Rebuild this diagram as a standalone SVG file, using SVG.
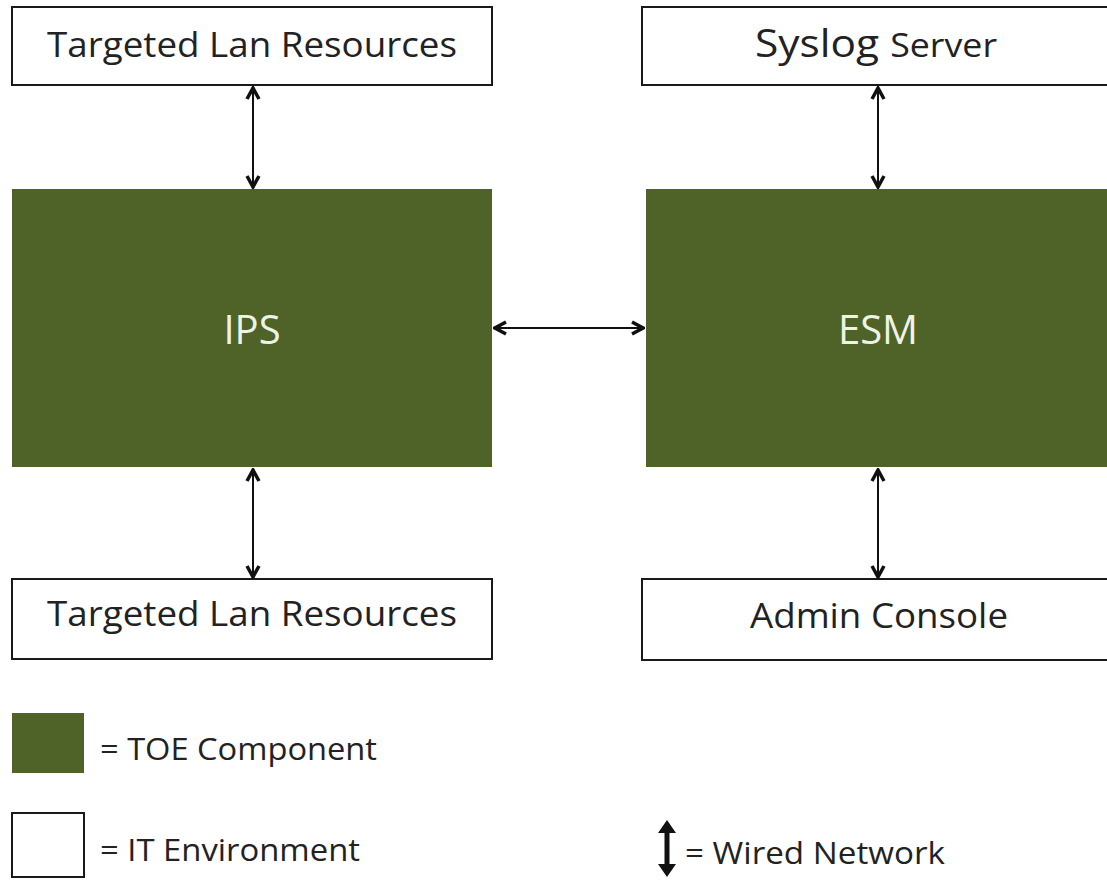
<svg xmlns="http://www.w3.org/2000/svg" width="1107" height="881" viewBox="0 0 1107 881">
<style>
.env{fill:#ffffff;stroke:#1a1a1a;stroke-width:2}
.toe{fill:#4f6228}
.t{font-family:"Open Sans","Liberation Sans",sans-serif;fill:#222222}
.tw{font-family:"Open Sans","Liberation Sans",sans-serif;fill:#eef3e6;font-size:40px;text-anchor:middle}
.c{stroke:#111111;stroke-width:2;fill:none;marker-start:url(#ah);marker-end:url(#ah)}
</style>
<defs>
<marker id="ah" viewBox="0 0 16 16" refX="14" refY="8" markerWidth="16" markerHeight="16" markerUnits="userSpaceOnUse" orient="auto-start-reverse">
<path d="M3,2 L14,8 L3,14" fill="none" stroke="#111111" stroke-width="3.5" stroke-linejoin="miter"/>
</marker>
</defs>
<rect width="1107" height="881" fill="#ffffff"/>
<g id="tlr-top">
<rect class="env" x="12" y="7" width="480" height="78"/>
<text class="t" x="252" y="57" font-size="34" text-anchor="middle" textLength="410" lengthAdjust="spacingAndGlyphs">Targeted Lan Resources</text>
</g>
<g id="syslog">
<rect class="env" x="642" y="7" width="470" height="78"/>
<text class="t" x="755" y="57" font-size="38" textLength="242" lengthAdjust="spacingAndGlyphs">Syslog <tspan font-size="32">Server</tspan></text>
</g>
<g id="ips">
<rect class="toe" x="12" y="189" width="480" height="278"/>
<text class="tw" x="252" y="344">IPS</text>
</g>
<g id="esm">
<rect class="toe" x="646" y="189" width="465" height="278"/>
<text class="tw" x="878" y="344">ESM</text>
</g>
<g id="tlr-bottom">
<rect class="env" x="12" y="579" width="480" height="80"/>
<text class="t" x="252" y="626" font-size="34" text-anchor="middle" textLength="410" lengthAdjust="spacingAndGlyphs">Targeted Lan Resources</text>
</g>
<g id="admin">
<rect class="env" x="642" y="579" width="470" height="81"/>
<text class="t" x="879" y="628" font-size="34" text-anchor="middle" textLength="258" lengthAdjust="spacingAndGlyphs">Admin Console</text>
</g>
<g id="connectors">
<line class="c" x1="253" y1="88" x2="253" y2="187"/>
<line class="c" x1="878" y1="88" x2="878" y2="187"/>
<line class="c" x1="495" y1="328" x2="643" y2="328"/>
<line class="c" x1="253" y1="470" x2="253" y2="577"/>
<line class="c" x1="878" y1="470" x2="878" y2="577"/>
</g>
<g id="legend">
<rect class="toe" x="12" y="713" width="72" height="60"/>
<text class="t" x="100" y="760" font-size="31" textLength="277" lengthAdjust="spacingAndGlyphs">= TOE Component</text>
<rect class="env" x="12" y="813" width="72" height="64"/>
<text class="t" x="100" y="861" font-size="31" textLength="260" lengthAdjust="spacingAndGlyphs">= IT Environment</text>
<path d="M667,820 L676,833 L669.5,833 L669.5,864 L676,864 L667,877 L658,864 L664.5,864 L664.5,833 L658,833 Z" fill="#111111"/>
<text class="t" x="685" y="864" font-size="31" textLength="260" lengthAdjust="spacingAndGlyphs">= Wired Network</text>
</g>
</svg>
